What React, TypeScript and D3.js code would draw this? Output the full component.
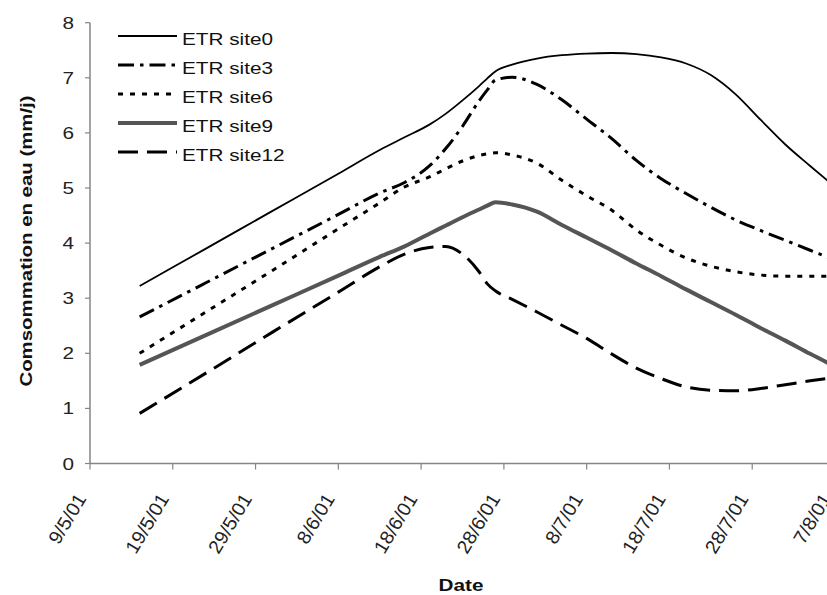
import React from "react";
import * as d3 from "d3";

const dates = [
  "2001-05-15", "2001-05-23", "2001-05-31", "2001-06-08", "2001-06-13", "2001-06-16",
  "2001-06-19", "2001-06-21", "2001-06-23", "2001-06-25", "2001-06-26", "2001-06-27",
  "2001-06-29", "2001-07-02", "2001-07-05", "2001-07-08", "2001-07-11", "2001-07-14",
  "2001-07-17", "2001-07-20", "2001-07-23", "2001-07-26", "2001-07-29", "2001-08-01",
  "2001-08-04", "2001-08-07",
];

const site0 = [3.22, 3.9, 4.58, 5.26, 5.69, 5.92, 6.15, 6.35, 6.59, 6.85, 6.99, 7.12, 7.24, 7.35, 7.41, 7.44, 7.45, 7.43, 7.37, 7.26, 7.05, 6.7, 6.24, 5.79, 5.4, 5.02];
const site3 = [2.66, 3.28, 3.9, 4.52, 4.91, 5.1, 5.4, 5.72, 6.12, 6.58, 6.78, 6.96, 7.01, 6.88, 6.6, 6.25, 5.9, 5.5, 5.17, 4.9, 4.65, 4.42, 4.23, 4.05, 3.87, 3.69];
const site6 = [2.0, 2.75, 3.5, 4.26, 4.73, 5.02, 5.2, 5.35, 5.49, 5.59, 5.62, 5.64, 5.6, 5.45, 5.14, 4.86, 4.6, 4.24, 3.96, 3.73, 3.58, 3.48, 3.42, 3.4, 3.4, 3.4];
const site9 = [1.79, 2.33, 2.87, 3.41, 3.75, 3.94, 4.17, 4.32, 4.47, 4.61, 4.68, 4.74, 4.7, 4.57, 4.33, 4.1, 3.87, 3.63, 3.4, 3.16, 2.93, 2.7, 2.46, 2.23, 1.99, 1.76];
const site12 = [0.91, 1.64, 2.38, 3.11, 3.57, 3.8, 3.92, 3.94, 3.8, 3.48, 3.26, 3.13, 2.98, 2.75, 2.51, 2.27, 1.99, 1.73, 1.54, 1.39, 1.33, 1.32, 1.36, 1.43, 1.5, 1.56];

const seriesNames = ["ETR site0", "ETR site3", "ETR site6", "ETR site9", "ETR site12"];
const seriesValues = [site0, site3, site6, site9, site12];

const xTickLabels = ["9/5/01", "19/5/01", "29/5/01", "8/6/01", "18/6/01", "28/6/01", "8/7/01", "18/7/01", "28/7/01", "7/8/01"];
const xTickDates = ["2001-05-09", "2001-05-19", "2001-05-29", "2001-06-08", "2001-06-18", "2001-06-28", "2001-07-08", "2001-07-18", "2001-07-28", "2001-08-07"];
const yTicks = [0, 1, 2, 3, 4, 5, 6, 7, 8];

const styles = [
  { stroke: "#000", width: 1.8, dash: "" },
  { stroke: "#000", width: 3, dash: "16 6 3.5 6" },
  { stroke: "#000", width: 3, dash: "5 7" },
  { stroke: "#555", width: 4, dash: "" },
  { stroke: "#000", width: 3, dash: "20 9" },
];

const W = 827;
const H = 595;
const FONT = "'Liberation Sans', Arial, sans-serif";
const STRETCH = 1.22;

export default function App() {
  const parse = d3.utcParse("%Y-%m-%d");
  const x = d3
    .scaleUtc()
    .domain([parse("2001-05-09")!, parse("2001-08-07")!])
    .range([90, 835]);
  const y = d3.scaleLinear().domain([0, 8]).range([463.5, 22.7]);
  const pts = dates.map((d) => parse(d)!);

  const line = d3
    .line<[Date, number]>()
    .x((d) => x(d[0]))
    .y((d) => y(d[1]))
    .curve(d3.curveMonotoneX);

  const axisColor = "#858585";
  const x0 = x.range()[0];
  const yBase = y(0);

  return (
    <svg
      width={W}
      height={H}
      style={{ position: "absolute", left: 0, top: 0, background: "#fff" }}
      fontFamily={FONT}
    >
      <rect x={0} y={0} width={W} height={H} fill="#fff" />
      {/* axes */}
      <line x1={x0} x2={x0} y1={y(8)} y2={yBase} stroke={axisColor} strokeWidth={1.5} />
      <line x1={x0} x2={W} y1={yBase} y2={yBase} stroke={axisColor} strokeWidth={1.5} />
      {yTicks.map((t) => (
        <g key={"y" + t}>
          <line x1={x0 - 5} x2={x0} y1={y(t)} y2={y(t)} stroke={axisColor} strokeWidth={1.2} />
          <text
            transform={`translate(${74},${y(t) + 6}) scale(${STRETCH},1)`}
            textAnchor="end"
            fontSize={17}
            fill="#222"
          >
            {t}
          </text>
        </g>
      ))}
      {xTickDates.map((d, i) => {
        const tx = x(parse(d)!);
        return (
          <g key={"x" + d}>
            <line x1={tx} x2={tx} y1={yBase} y2={yBase + 6} stroke={axisColor} strokeWidth={1.2} />
            <text
              transform={`translate(${tx - 3},${yBase + 35}) rotate(-59) scale(1.04,1)`}
              textAnchor="end"
              fontSize={19}
              fill="#222"
            >
              {xTickLabels[i]}
            </text>
          </g>
        );
      })}
      {/* series */}
      {seriesValues.map((vals, si) => {
        const data = pts.map((p, i) => [p, vals[i]] as [Date, number]);
        const st = styles[si];
        return (
          <path
            key={seriesNames[si]}
            d={line(data) || ""}
            fill="none"
            stroke={st.stroke}
            strokeWidth={st.width}
            strokeDasharray={st.dash || undefined}
            strokeLinejoin="round"
          />
        );
      })}
      {/* legend */}
      {seriesNames.map((name, i) => {
        const ly = 36 + i * 29;
        const st = styles[i];
        return (
          <g key={"lg" + name}>
            <line
              x1={118}
              x2={177}
              y1={ly}
              y2={ly}
              stroke={st.stroke}
              strokeWidth={st.width}
              strokeDasharray={st.dash || undefined}
            />
            <text
              transform={`translate(182,${ly + 9}) scale(${STRETCH},1)`}
              fontSize={17}
              fill="#111"
            >
              {name}
            </text>
          </g>
        );
      })}
      {/* axis titles */}
      <text
        transform={`translate(461,591) scale(${STRETCH},1)`}
        textAnchor="middle"
        fontSize={17}
        fontWeight="bold"
        fill="#111"
      >
        Date
      </text>
      <text
        transform={`translate(32,241) rotate(-90) scale(1.2,1)`}
        textAnchor="middle"
        fontSize={17}
        fontWeight="bold"
        fill="#111"
      >
        Comsommation en eau (mm/j)
      </text>
    </svg>
  );
}
